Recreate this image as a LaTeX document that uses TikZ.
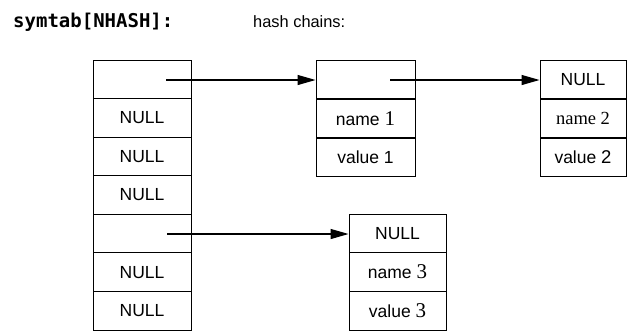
\documentclass[tikz,border=0pt]{standalone}
\usepackage{fontspec}
\setmainfont{Liberation Sans}
\newfontfamily\serifd{Liberation Serif}
\newfontfamily\monob{DejaVu Sans Mono}
\usetikzlibrary{arrows.meta}
\begin{document}
\begin{tikzpicture}[x=1pt,y=-1pt,
  cell/.style={draw, line width=0.9pt, inner sep=0pt, minimum height=38.6pt,
    font=\fontsize{17.5}{20}\selectfont},
  symcell/.style={cell, minimum width=98pt},
  c1cell/.style={cell, minimum width=99pt},
  c2cell/.style={cell, minimum width=86pt},
  c3cell/.style={cell, minimum width=97pt},
  ptr/.style={line width=1.2pt, -{Triangle[length=18pt,width=10pt]}},
  lbl/.style={anchor=base west, inner sep=0pt}]
\useasboundingbox (0,0) rectangle (628,330);
% labels
\node[lbl, font=\monob\bfseries\fontsize{19}{22}\selectfont] (title) at (13,27) {symtab[NHASH]:};
\node[lbl, font=\fontsize{16.4}{18}\selectfont] (chains) at (253,27) {hash chains:};
% symtab column
\node[symcell] (s1) at (142,79.3) {};
\node[symcell] (s2) at (142,117.9) {NULL};
\node[symcell] (s3) at (142,156.4) {NULL};
\node[symcell] (s4) at (142,195.0) {NULL};
\node[symcell] (s5) at (142,233.6) {};
\node[symcell] (s6) at (142,272.1) {NULL};
\node[symcell] (s7) at (142,310.7) {NULL};
% chain 1
\node[c1cell] (a1) at (365.5,79.5) {};
\node[c1cell] (a2) at (365.5,118.5) {name {\serifd\fontsize{21}{20}\selectfont 1}};
\node[c1cell] (a3) at (365.5,157.5) {value 1};
% chain 2
\node[c2cell] (b1) at (583,79.5) {NULL};
\node[c2cell] (b2) at (583,118.5) {\serifd\fontsize{18.5}{20}\selectfont name 2};
\node[c2cell] (b3) at (583,157.5) {value {\fontsize{18.5}{20}\selectfont 2}};
% chain 3
\node[c3cell] (d1) at (397.5,233.3) {NULL};
\node[c3cell] (d2) at (397.5,272.0) {name {\serifd\fontsize{21}{20}\selectfont 3}};
\node[c3cell] (d3) at (397.5,310.7) {value {\serifd\fontsize{21}{20}\selectfont 3}};
% pointers
\coordinate (p1) at (166,80);
\coordinate (p2) at (390,80);
\coordinate (p3) at (167,234);
\draw[ptr] (p1) -- (p1 -| a1.west);
\draw[ptr] (p2) -- (p2 -| b1.west);
\draw[ptr] (p3) -- (p3 -| d1.west);
\end{tikzpicture}
\end{document}
